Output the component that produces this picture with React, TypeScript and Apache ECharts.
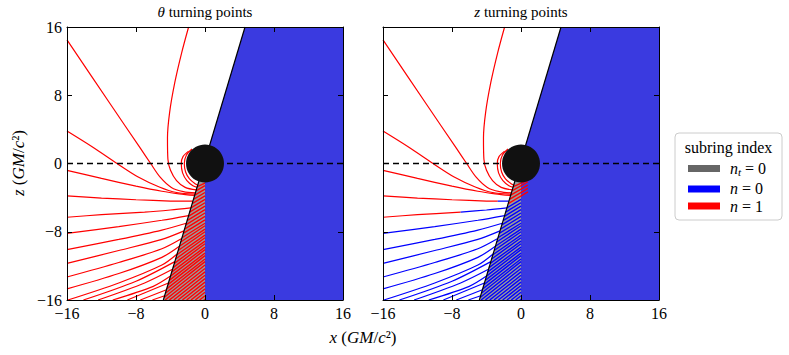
import React, { useEffect, useRef } from "react";
import * as echarts from "echarts";

// ---------- data ----------
const AX_MIN = -16;
const AX_MAX = 16;
const AX_STEP = 8;

const boundaryLine = [[-4.83, -16], [4.64, 16]];
const grayRegion = [[-4.83, -16], [4.64, 16], [16, 16], [16, -16]];
const blueRegion = [[-0.1, 0], [4.64, 16], [16, 16], [16, -16], [0, -16], [0, 0]];
const horizonRadius = 2.2;
const equator = [[-16, 0], [16, 0]];

// ray curves in the white region (x, z)
const arc1 = [[-1.5, 1.7], [-2.15, 1.0], [-2.4, 0], [-2.25, -1.0], [-1.8, -1.8], [-1.1, -2.4], [-0.8, -2.55]];
const arc2 = [[-1.9, 1.45], [-2.55, 0.8], [-2.75, 0], [-2.6, -1.1], [-2.1, -2.0], [-1.4, -2.6], [-0.9, -2.8]];
const rayTop = [[-1.9, 16], [-2.7, 13], [-3.5, 9.5], [-4.1, 6], [-4.35, 3], [-4.3, 0.5], [-4.0, -0.8], [-3.3, -2.0], [-2.3, -2.8], [-1.0, -3.1]];
const rayA = [[-16, 14.5], [-11, 7.0], [-7.5, 1.8], [-6.3, 0], [-5.2, -1.6], [-3.9, -2.8], [-2.5, -3.3], [-1.1, -3.45]];
const rayB = [[-16, 3.8], [-13, 1.9], [-10.2, 0], [-7.8, -1.55], [-5.3, -2.75], [-3.3, -3.4], [-1.15, -3.6]];
const e1 = [[-16, -0.8], [-12, -1.75], [-8, -2.65], [-5, -3.25], [-3, -3.55], [-1.19, -3.75]];
const e2 = [[-16, -3.8], [-12, -4.05], [-8, -4.25], [-4, -4.4], [-2.7, -4.42], [-1.4, -4.4]];
const e3 = [[-16, -6.3], [-12, -6.0], [-7, -5.7], [-4, -5.45], [-1.63, -5.2]];
const e4 = [[-16, -8.2], [-10, -7.4], [-5, -6.65], [-1.9, -6.1]];
const e5 = [[-16, -10.1], [-10, -8.9], [-5, -7.8], [-2.17, -7.0]];
const e6 = [[-16, -11.7], [-10, -10.2], [-5, -8.9], [-2.43, -7.9]];
const e7 = [[-16, -13.3], [-10, -11.6], [-5, -10.0], [-2.7, -8.8]];
const e8 = [[-16, -14.7], [-10, -12.9], [-5, -11.0], [-2.97, -9.7]];
const e9 = [[-15.9, -16], [-10, -14.0], [-5, -11.9], [-3.23, -10.6]];
const b1 = [[-14.1, -16], [-8, -13.8], [-3.5, -11.5]];
const b2 = [[-12.4, -16], [-7, -14.0], [-3.77, -12.4]];
const b3 = [[-10.7, -16], [-6, -14.4], [-4.0, -13.2]];
const b4 = [[-9.0, -16], [-4.24, -14.0]];
const b5 = [[-7.5, -16], [-4.47, -14.8]];
const b6 = [[-6.1, -16], [-4.68, -15.5]];

const rays = [arc1, arc2, rayTop, rayA, rayB, e1, e2, e3, e4, e5, e6, e7, e8, e9, b1, b2, b3, b4, b5, b6];
// right panel: index of the point where the ray turns blue (99 = stays red)
const rightBlueFrom = [99, 99, 99, 99, 99, 99, 4, 2, 0, 0, 0, 0, 0, 0, 0, 0, 0, 0, 0, 0];

// hatching inside the grey strip: start z on the boundary line, end z at x = 0
const stripStartZ = [-2.7, -3.2, -3.7, -4.2, -4.7, -5.2, -5.7, -6.2, -6.7, -7.2, -7.7, -8.2, -8.7, -9.2, -9.7, -10.2, -10.7, -11.2, -11.7, -12.2, -12.7, -13.2, -13.7, -14.2, -14.7, -15.2, -15.7];
const stripEndZ = [-2.3, -2.6, -3.0, -3.4, -3.8, -4.2, -4.6, -5.0, -5.4, -5.8, -6.2, -6.6, -7.0, -7.3, -7.7, -8.0, -8.4, -8.7, -9.1, -9.4, -9.8, -10.1, -10.5, -10.8, -11.2, -11.5, -11.9];
// hatching starting on the bottom edge
const stripBottomX = [-4.63, -4.13, -3.63, -3.13, -2.63, -2.13, -1.63, -1.13, -0.63, -0.13];
const stripBottomEndZ = [-12.3, -12.7, -13.1, -13.5, -13.9, -14.3, -14.7, -15.1, -15.5, -15.9];
const rightRedHatchCount = 5;
// in the right panel the red hatching near the hole runs slightly past x = 0
const rightRedHatchEndX = 0.8;

// ---------- styles ----------
const FONT = '"Liberation Serif", "DejaVu Serif", serif';
const RED = "#ff0000";
const BLUE = "#0000ff";
const GRAY_FILL = "#9b9b9b";
const BLUE_FILL = "#3a3ae0";

function slantX(z: number) {
  const [[x1, z1], [x2, z2]] = boundaryLine;
  return x1 + ((z - z1) * (x2 - x1)) / (z2 - z1);
}

function hatchData(panel: number) {
  const d: number[][] = [];
  stripStartZ.forEach((zs, i) => {
    const xs = slantX(zs);
    const ze = stripEndZ[i];
    if (panel === 0) {
      d.push([xs, zs, 0, ze, 1]);
    } else if (i < rightRedHatchCount) {
      const slope = (ze - zs) / (0 - xs);
      d.push([xs, zs, rightRedHatchEndX, ze + slope * rightRedHatchEndX, 1]);
    } else {
      d.push([xs, zs, 0, ze, 0]);
    }
  });
  stripBottomX.forEach((xb, i) => {
    d.push([xb, -16, 0, stripBottomEndZ[i], panel === 0 ? 1 : 0]);
  });
  return d;
}

function polygonSeries(poly: number[][], fill: string, ai: number, z: number) {
  return {
    type: "custom",
    xAxisIndex: ai,
    yAxisIndex: ai,
    silent: true,
    clip: true,
    z,
    data: [[0, 0]],
    renderItem: (_p: any, api: any) => ({
      type: "polygon",
      shape: { points: poly.map((pt) => api.coord(pt)) },
      style: { fill, stroke: "none" },
    }),
  };
}

function lineSeries(pts: number[][], color: string, ai: number, z: number, extra: any = {}) {
  return {
    type: "line",
    xAxisIndex: ai,
    yAxisIndex: ai,
    data: pts,
    showSymbol: false,
    symbol: "none",
    smooth: 0.3,
    silent: true,
    clip: true,
    z,
    lineStyle: { color, width: 1.2 },
    ...extra,
  };
}

function panelSeries(panel: number) {
  const ai = panel === 0 ? 0 : 2;
  const s: any[] = [];
  s.push(polygonSeries(grayRegion, GRAY_FILL, ai, 1));
  s.push(polygonSeries(blueRegion, BLUE_FILL, ai, 2));
  s.push({
    type: "custom",
    xAxisIndex: ai,
    yAxisIndex: ai,
    silent: true,
    clip: true,
    z: 3,
    encode: { x: [0, 2], y: [1, 3] },
    data: hatchData(panel),
    renderItem: (_p: any, api: any) => {
      const a = api.coord([api.value(0), api.value(1)]);
      const b = api.coord([api.value(2), api.value(3)]);
      return {
        type: "line",
        shape: { x1: a[0], y1: a[1], x2: b[0], y2: b[1] },
        style: { stroke: api.value(4) === 1 ? RED : BLUE, lineWidth: 1.4 },
      };
    },
  });
  rays.forEach((pts, i) => {
    if (panel === 0) {
      s.push(lineSeries(pts, RED, ai, 4));
    } else {
      const k = rightBlueFrom[i];
      if (k >= pts.length - 1) s.push(lineSeries(pts, RED, ai, 4));
      else {
        if (k > 0) s.push(lineSeries(pts.slice(0, k + 1), RED, ai, 4));
        s.push(lineSeries(pts.slice(k), BLUE, ai, 4));
      }
    }
  });
  s.push(lineSeries(equator, "#000", ai, 5, { smooth: false, lineStyle: { color: "#000", width: 1.5, type: [6, 4] } }));
  s.push(lineSeries(boundaryLine, "#000", ai, 5, { smooth: false, lineStyle: { color: "#000", width: 1.2 } }));
  s.push({
    type: "custom",
    xAxisIndex: ai,
    yAxisIndex: ai,
    silent: true,
    z: 6,
    data: [[0, 0]],
    renderItem: (_p: any, api: any) => {
      const c = api.coord([0, 0]);
      const e = api.coord([horizonRadius, 0]);
      return { type: "circle", shape: { cx: c[0], cy: c[1], r: e[0] - c[0] }, style: { fill: "#111111" } };
    },
  });
  return s;
}

const minusFmt = (v: number) => String(v).replace("-", "\u2212");

function axis(gridIndex: number, position: string, showLabel: boolean) {
  return {
    type: "value",
    gridIndex,
    position,
    min: AX_MIN,
    max: AX_MAX,
    interval: AX_STEP,
    z: 10,
    axisLine: { show: true, onZero: false, lineStyle: { color: "#000", width: 1 } },
    axisTick: { show: true, inside: true, length: 5, lineStyle: { color: "#000", width: 1 } },
    splitLine: { show: false },
    axisLabel: {
      show: showLabel,
      formatter: minusFmt,
      color: "#000",
      fontFamily: FONT,
      fontSize: 16,
      margin: 5,
    },
  };
}

const richMath = (size: number) => ({
  i: { fontStyle: "italic", fontFamily: FONT, fontSize: size, fill: "#000" },
  r: { fontFamily: FONT, fontSize: size, fill: "#000" },
  sub: { fontStyle: "italic", fontFamily: FONT, fontSize: size * 0.7, fill: "#000", padding: [6, 0, 0, 0] },
});

function textEl(x: number, y: number, text: string, size: number, align = "center", extra: any = {}) {
  return {
    type: "text",
    x,
    y,
    silent: true,
    ...extra,
    style: {
      text,
      fontFamily: FONT,
      fontSize: size,
      fill: "#000",
      align,
      verticalAlign: "middle",
      rich: richMath(size),
    },
  };
}

const LEG_X = 675;
const LEG_Y = 133;

function buildOption() {
  return {
    animation: false,
    backgroundColor: "#ffffff",
    grid: [
      { left: 67, top: 27, width: 276, height: 273 },
      { left: 383, top: 27, width: 276, height: 273 },
    ],
    xAxis: [axis(0, "bottom", true), axis(0, "top", false), axis(1, "bottom", true), axis(1, "top", false)],
    yAxis: [axis(0, "left", true), axis(0, "right", false), axis(1, "left", false), axis(1, "right", false)],
    series: [...panelSeries(0), ...panelSeries(1)],
    graphic: [
      textEl(205, 12, "{i|θ}{r| turning points}", 15),
      textEl(521, 12, "{i|z}{r| turning points}", 15),
      textEl(363, 337, "{i|x}{r| (}{i|GM}{r|/}{i|c}{r|²)}", 17),
      textEl(18, 163, "{i|z}{r| (}{i|GM}{r|/}{i|c}{r|²)}", 17, "center", { rotation: Math.PI / 2 }),
      {
        type: "rect",
        x: LEG_X,
        y: LEG_Y,
        silent: true,
        shape: { x: 0, y: 0, width: 107, height: 87, r: 4 },
        style: { fill: "#ffffff", stroke: "#cccccc", lineWidth: 1 },
      },
      textEl(LEG_X + 53.5, LEG_Y + 14.5, "{r|subring index}", 16),
      { type: "rect", x: LEG_X + 13, y: LEG_Y + 32, silent: true, shape: { x: 0, y: 0, width: 32, height: 7 }, style: { fill: "#666666" } },
      { type: "rect", x: LEG_X + 13, y: LEG_Y + 52.5, silent: true, shape: { x: 0, y: 0, width: 32, height: 7 }, style: { fill: BLUE } },
      { type: "rect", x: LEG_X + 13, y: LEG_Y + 69.5, silent: true, shape: { x: 0, y: 0, width: 32, height: 7 }, style: { fill: RED } },
      textEl(LEG_X + 55, LEG_Y + 35.5, "{i|n}{sub|t}{r| = 0}", 16, "left"),
      textEl(LEG_X + 55, LEG_Y + 55.5, "{i|n}{r| = 0}", 16, "left"),
      textEl(LEG_X + 55, LEG_Y + 73, "{i|n}{r| = 1}", 16, "left"),
    ],
  };
}

export default function App() {
  const ref = useRef<HTMLDivElement>(null);
  useEffect(() => {
    if (!ref.current) return;
    const chart = echarts.init(ref.current, null, { renderer: "svg" });
    chart.setOption(buildOption() as any);
    return () => chart.dispose();
  }, []);
  return <div ref={ref} style={{ position: "fixed", left: 0, top: 0, width: 789, height: 355, background: "#fff" }} />;
}
